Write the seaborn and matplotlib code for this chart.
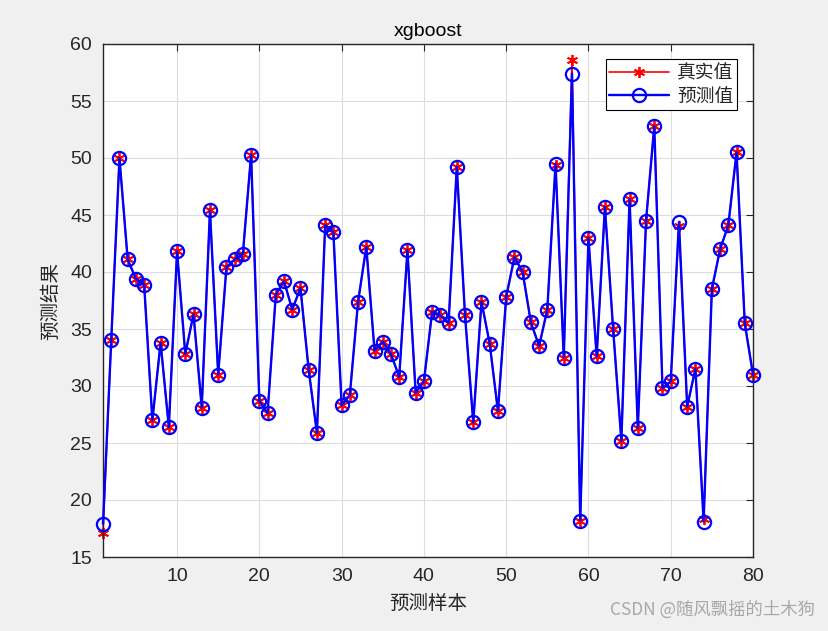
import matplotlib
matplotlib.use("Agg")
import matplotlib.pyplot as plt
import seaborn as sns
import numpy as np
import pandas as pd

samples = list(range(1, 81))
true_vals = [17.1, 34.0, 50.0, 41.1, 39.4, 38.9, 27.0, 33.8, 26.4, 41.8,
             32.8, 36.3, 28.1, 45.4, 31.0, 40.4, 41.1, 41.6, 50.3, 28.7,
             27.6, 38.0, 39.2, 36.7, 38.6, 31.4, 25.9, 44.1, 43.5, 28.3,
             29.2, 37.4, 42.2, 33.1, 33.9, 32.8, 30.8, 41.9, 29.4, 30.4,
             36.5, 36.2, 35.5, 49.2, 36.2, 26.8, 37.4, 33.7, 27.8, 37.8,
             41.3, 40.0, 35.6, 33.5, 36.7, 49.4, 32.5, 58.6, 18.2, 43.0,
             32.6, 45.7, 35.0, 25.2, 46.4, 26.3, 44.5, 52.8, 29.8, 30.4,
             44.0, 28.2, 31.5, 18.3, 38.5, 42.0, 44.1, 50.5, 35.5, 31.0]
pred_vals = [17.9, 34.0, 50.0, 41.1, 39.4, 38.9, 27.0, 33.8, 26.4, 41.8,
             32.8, 36.3, 28.1, 45.4, 31.0, 40.4, 41.1, 41.6, 50.3, 28.7,
             27.6, 38.0, 39.2, 36.7, 38.6, 31.4, 25.9, 44.1, 43.5, 28.3,
             29.2, 37.4, 42.2, 33.1, 33.9, 32.8, 30.8, 41.9, 29.4, 30.4,
             36.5, 36.2, 35.5, 49.2, 36.2, 26.8, 37.4, 33.7, 27.8, 37.8,
             41.3, 40.0, 35.6, 33.5, 36.7, 49.5, 32.5, 57.4, 18.2, 43.0,
             32.6, 45.7, 35.0, 25.2, 46.4, 26.3, 44.5, 52.8, 29.8, 30.4,
             44.4, 28.2, 31.5, 18.1, 38.5, 42.0, 44.1, 50.5, 35.5, 31.0]
x_ticks = [10, 20, 30, 40, 50, 60, 70, 80]
y_ticks = [15, 20, 25, 30, 35, 40, 45, 50, 55, 60]
title = "xgboost"
xlabel = "预测样本"
ylabel = "预测结果"
legend_labels = ["真实值", "预测值"]

sns.set_style("white")
cjk = ["Noto Sans CJK SC", "DejaVu Sans"]
num_font = ["Liberation Sans Narrow", "Liberation Sans", "DejaVu Sans"]
plt.rcParams["font.family"] = num_font

fig = plt.figure(figsize=(8.29, 6.31), dpi=100, facecolor="#f0f0f0")
ax = fig.add_axes([103/829, 1-557/631, 650/829, 513/631])
ax.set_facecolor("white")

df = pd.DataFrame({"x": samples, "true": true_vals, "pred": pred_vals})
sns.lineplot(data=df, x="x", y="true", ax=ax, color="red", marker=(6, 2, 0),
             markersize=8, markeredgecolor="red", markeredgewidth=1.3, linewidth=1.2,
             label=legend_labels[0], zorder=2, clip_on=False)
sns.lineplot(data=df, x="x", y="pred", ax=ax, color="blue", marker="o",
             markersize=9.5, markerfacecolor="none", markeredgecolor="blue",
             markeredgewidth=1.6, linewidth=1.7, label=legend_labels[1], zorder=3,
             clip_on=False)

ax.set_xlim(1, 80)
ax.set_ylim(15, 60)
ax.set_xticks(x_ticks)
ax.set_yticks(y_ticks)
ax.grid(True, color="#dcdcdc", linewidth=0.8)
ax.tick_params(direction="in", top=True, right=True, length=5, width=0.8,
               labelsize=14, colors="#262626", pad=8)
for s in ax.spines.values():
    s.set_color("#262626")
    s.set_linewidth(1.0)

ax.set_title(title, fontsize=14, color="black", pad=6, family=num_font)
ax.set_xlabel(xlabel, fontsize=14, family=cjk, color="#262626", labelpad=6)
ax.set_ylabel(ylabel, fontsize=14, family=cjk, color="#262626", labelpad=6)

leg = ax.legend(loc="upper right", bbox_to_anchor=((737-103)/650, (557-59)/513),
                borderaxespad=0, frameon=True, fancybox=False, framealpha=1,
                edgecolor="black", prop={"family": cjk, "size": 13.5},
                handlelength=3.2, borderpad=0.2, labelspacing=0.1, handletextpad=0.4)
leg.get_frame().set_linewidth(0.8)
leg.set_zorder(5)

fig.text(815/829, 1-610/631, "CSDN @随风飘摇的土木狗", ha="right", va="center",
         fontsize=12.5, color="#a8a8a8", family=cjk)

fig.savefig("out.png", dpi=100, facecolor=fig.get_facecolor())
